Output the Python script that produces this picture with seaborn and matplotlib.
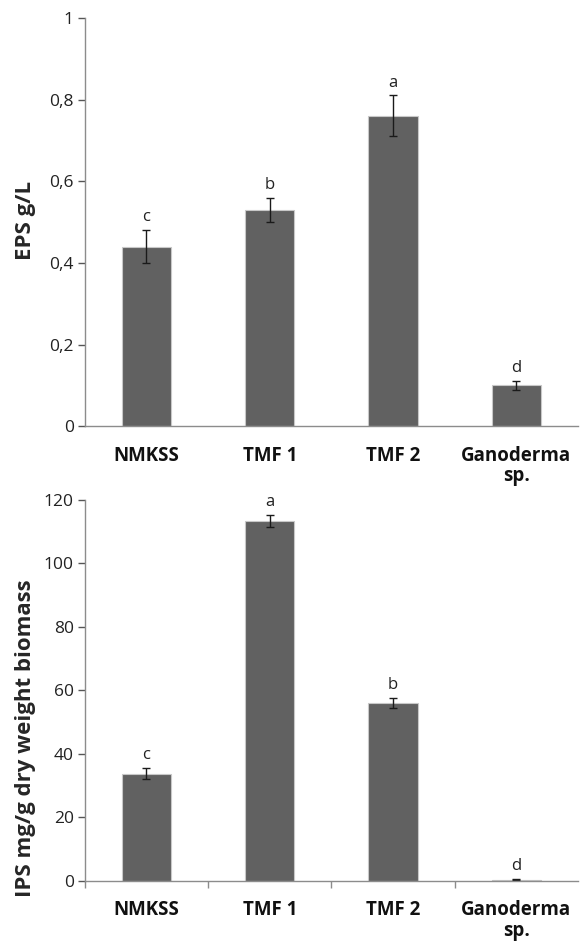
"""
EPS and IPS production by strain, two stacked bar panels with error bars
"""

import matplotlib
matplotlib.use("Agg")

import matplotlib.pyplot as plt
import pandas as pd
import seaborn as sns

strains = ["NMKSS", "TMF 1", "TMF 2", "Ganoderma\nsp."]

eps_mean = [0.44, 0.53, 0.76, 0.10]
eps_err = [0.04, 0.03, 0.05, 0.01]
eps_letters = ["c", "b", "a", "d"]

ips_mean = [33.8, 113.4, 56.0, 0.4]
ips_err = [1.7, 1.9, 1.6, 0.2]
ips_letters = ["c", "a", "b", "d"]

BAR_COLOR = "#616161"
AXIS_COLOR = "#8c8c8c"

sns.set_theme(style="white")
plt.rcParams["font.family"] = ["Open Sans", "DejaVu Sans"]

fig = plt.figure(figsize=(5.81, 9.41), dpi=100)
ax_top = fig.add_axes([0.146, 0.547, 0.849, 0.434])
ax_bot = fig.add_axes([0.146, 0.0638, 0.849, 0.405])


def draw_panel(ax, means, errs, letters, ylabel, ylim, yticks, ticklabels,
               letter_pad, xticks_on, label_y):
    df = pd.DataFrame({"strain": strains, "value": means})
    sns.barplot(data=df, x="strain", y="value", color=BAR_COLOR, saturation=1,
                width=0.4, edgecolor="#c8c8c8", linewidth=0.8, ax=ax, errorbar=None)
    xs = range(len(strains))
    ax.errorbar(xs, means, yerr=errs, fmt="none", ecolor="#1a1a1a",
                elinewidth=1.0, capsize=3, capthick=1.0)
    for x, m, e, lab in zip(xs, means, errs, letters):
        ax.text(x, m + e + letter_pad, lab, ha="center", va="bottom",
                fontsize=12, color="#222222")

    ax.set_xlim(-0.5, len(strains) - 0.5)
    ax.set_ylim(*ylim)
    ax.set_yticks(yticks)
    ax.set_yticklabels(ticklabels, fontsize=12.5, color="#222222")
    ax.set_ylabel(ylabel, fontsize=16, fontweight="bold")
    ax.yaxis.set_label_coords(-0.099, label_y)
    ax.set_xlabel("")
    ax.set_xticklabels(strains, fontsize=13.5, fontweight="bold",
                       color="#111111", linespacing=1.05)

    for side in ["top", "right"]:
        ax.spines[side].set_visible(False)
    for side in ["left", "bottom"]:
        ax.spines[side].set_color(AXIS_COLOR)
        ax.spines[side].set_linewidth(1.0)

    ax.tick_params(axis="y", which="both", left=True, length=5, width=1,
                   color="#555555", pad=3)
    if xticks_on:
        ax.set_xticks([x - 0.5 for x in xs], minor=True)
        ax.tick_params(axis="x", which="minor", bottom=True, length=5,
                       width=1, color=AXIS_COLOR)
    ax.tick_params(axis="x", which="major", bottom=False, pad=8)


draw_panel(ax_top, eps_mean, eps_err, eps_letters, "EPS g/L", (0, 1),
           [0, 0.2, 0.4, 0.6, 0.8, 1], ["0", "0,2", "0,4", "0,6", "0,8", "1"],
           0.012, False, 0.505)

draw_panel(ax_bot, ips_mean, ips_err, ips_letters,
           "IPS mg/g dry weight biomass", (0, 120),
           [0, 20, 40, 60, 80, 100, 120], ["0", "20", "40", "60", "80", "100", "120"],
           1.5, True, 0.375)

fig.savefig("out.png", dpi=100, facecolor="white")
